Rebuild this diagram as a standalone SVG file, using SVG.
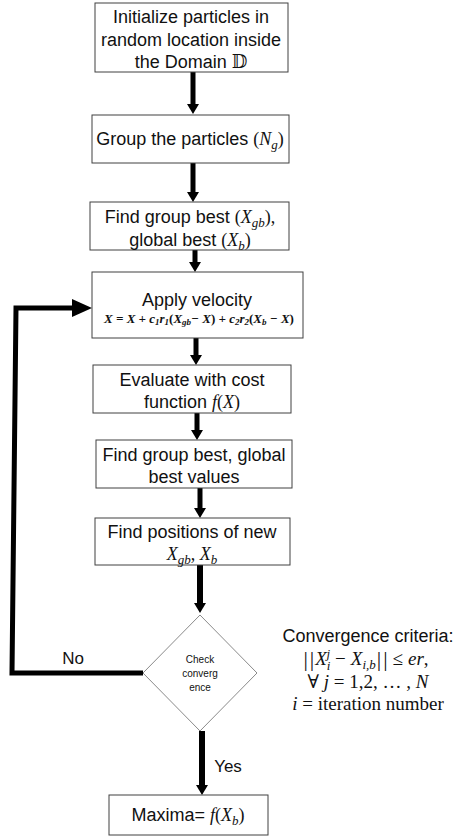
<svg xmlns="http://www.w3.org/2000/svg" width="455" height="837" viewBox="0 0 455 837">
<style>
.box{fill:#fff;stroke:#404040;stroke-width:1}
.t{font-family:"Liberation Sans","DejaVu Sans",sans-serif;font-size:18px;fill:#111;text-anchor:middle}
.m{font-family:"Liberation Serif","DejaVu Serif",serif;font-style:italic}
.r{font-family:"Liberation Serif","DejaVu Serif",serif;font-style:normal}
.sm{font-size:13px}
.dia{font-family:"Liberation Sans","DejaVu Sans",sans-serif;font-size:10px;fill:#111;text-anchor:middle}
.crit{font-family:"Liberation Serif","DejaVu Serif",serif;font-size:19px;fill:#111;text-anchor:middle}
.conn{stroke:#000;fill:none}
</style>
<defs>
<marker id="ah" viewBox="0 -6 10 12" refX="0" refY="0" markerWidth="10" markerHeight="12" markerUnits="userSpaceOnUse" orient="auto">
<path d="M0,-6 L10,0 L0,6 z" fill="#000"/>
</marker>
<marker id="ahL" viewBox="0 -9 20 18" refX="0" refY="0" markerWidth="20" markerHeight="18" markerUnits="userSpaceOnUse" orient="auto">
<path d="M0,-9 L20,0 L0,9 z" fill="#000"/>
</marker>
</defs>

<g id="connectors">
<line class="conn" x1="193" y1="72" x2="193" y2="104" stroke-width="5" marker-end="url(#ah)"/>
<line class="conn" x1="193" y1="163" x2="193" y2="192" stroke-width="5" marker-end="url(#ah)"/>
<line class="conn" x1="195" y1="250" x2="195" y2="262" stroke-width="5" marker-end="url(#ah)"/>
<line class="conn" x1="196" y1="338" x2="196" y2="355" stroke-width="5" marker-end="url(#ah)"/>
<line class="conn" x1="197" y1="413" x2="197" y2="430" stroke-width="5" marker-end="url(#ah)"/>
<line class="conn" x1="200" y1="488" x2="200" y2="508" stroke-width="5" marker-end="url(#ah)"/>
<line class="conn" x1="200" y1="565" x2="200" y2="603" stroke-width="6" marker-end="url(#ah)"/>
<line class="conn" x1="202" y1="731" x2="202" y2="785" stroke-width="6" marker-end="url(#ah)"/>
<polyline class="conn" points="143,673 12,673 16,308 72,308" stroke-width="5" marker-end="url(#ahL)"/>
<text class="t" x="73" y="664" style="font-size:17px">No</text>
<text class="t" x="228" y="772" style="font-size:17px">Yes</text>
</g>

<g id="n1">
<rect class="box" x="95" y="3" width="193" height="69"/>
<text class="t" x="191" y="23">Initialize particles in</text>
<text class="t" x="191" y="46">random location inside</text>
<text class="t" x="191" y="68">the Domain <tspan class="r">𝔻</tspan></text>
</g>

<g id="n2">
<rect class="box" x="92" y="115" width="197" height="48"/>
<text class="t" x="190" y="145">Group the particles <tspan class="r">(</tspan><tspan class="m">N</tspan><tspan class="m sm" dy="4">g</tspan><tspan class="r" dy="-4">)</tspan></text>
</g>

<g id="n3">
<rect class="box" x="90" y="202" width="199" height="48"/>
<text class="t" x="190" y="223">Find group best <tspan class="r">(</tspan><tspan class="m">X</tspan><tspan class="m sm" dy="4">gb</tspan><tspan class="r" dy="-4">),</tspan></text>
<text class="t" x="190" y="246">global best <tspan class="r">(</tspan><tspan class="m">X</tspan><tspan class="m sm" dy="4">b</tspan><tspan class="r" dy="-4">)</tspan></text>
</g>

<g id="n4">
<rect class="box" x="92" y="272" width="211" height="66"/>
<text class="t" x="197" y="306">Apply velocity</text>
<text class="t" x="199" y="323" style="font-family:'Liberation Serif',serif;font-size:13px;font-weight:bold;font-style:italic">X = X + c<tspan style="font-size:9px" dy="2">1</tspan><tspan dy="-2">r</tspan><tspan style="font-size:9px" dy="2">1</tspan><tspan dy="-2" style="font-style:normal">(</tspan>X<tspan style="font-size:9px" dy="2">gb</tspan><tspan dy="-2">− X</tspan><tspan style="font-style:normal">)</tspan> + c<tspan style="font-size:9px" dy="2">2</tspan><tspan dy="-2">r</tspan><tspan style="font-size:9px" dy="2">2</tspan><tspan dy="-2" style="font-style:normal">(</tspan>X<tspan style="font-size:9px" dy="2">b</tspan><tspan dy="-2"> − X</tspan><tspan style="font-style:normal">)</tspan></text>
</g>

<g id="n5">
<rect class="box" x="93" y="365" width="198" height="48"/>
<text class="t" x="192" y="386">Evaluate with cost</text>
<text class="t" x="192" y="408">function <tspan class="m">f</tspan><tspan class="r">(</tspan><tspan class="m">X</tspan><tspan class="r">)</tspan></text>
</g>

<g id="n6">
<rect class="box" x="96" y="440" width="196" height="48"/>
<text class="t" x="194" y="461">Find group best, global</text>
<text class="t" x="194" y="483">best values</text>
</g>

<g id="n7">
<rect class="box" x="95" y="518" width="195" height="47"/>
<text class="t" x="192" y="538">Find positions of new</text>
<text class="t" x="192" y="560"><tspan class="m">X</tspan><tspan class="m sm" dy="4">gb</tspan><tspan class="r" dy="-4">, </tspan><tspan class="m">X</tspan><tspan class="m sm" dy="4">b</tspan></text>
</g>

<g id="n8">
<polygon points="200,615 257,673 200,731 143,673" fill="#fff" stroke="#8a8a8a" stroke-width="1"/>
<text class="dia" x="200" y="663">Check</text>
<text class="dia" x="200" y="677">converg</text>
<text class="dia" x="200" y="691">ence</text>
</g>

<g id="n9">
<rect class="box" x="109" y="795" width="159" height="40"/>
<text class="t" x="188" y="821">Maxima= <tspan class="m">f</tspan><tspan class="r">(</tspan><tspan class="m">X</tspan><tspan class="m sm" dy="4">b</tspan><tspan class="r" dy="-4">)</tspan></text>
</g>

<g id="criteria">
<text class="t" x="368" y="642">Convergence criteria:</text>
<text class="crit" x="366" y="665"><tspan style="font-size:22px" dy="1">|</tspan><tspan style="font-size:22px" dx="2">|</tspan><tspan dy="-1" dx="1" style="font-style:italic">X</tspan><tspan style="font-size:13px;font-style:italic" dy="5">i</tspan><tspan style="font-size:13px;font-style:italic" dx="-4" dy="-12">j</tspan><tspan dy="7" dx="5">−</tspan><tspan dx="5" style="font-style:italic">X</tspan><tspan style="font-size:13px;font-style:italic" dy="4">i,b</tspan><tspan style="font-size:22px" dy="-3" dx="1">|</tspan><tspan style="font-size:22px" dx="2">|</tspan><tspan dy="-1" dx="5">≤</tspan><tspan dx="5" style="font-style:italic">er</tspan>,</text>
<text class="crit" x="368" y="688">∀ <tspan style="font-style:italic">j</tspan> = 1,2, … , <tspan style="font-style:italic">N</tspan></text>
<text class="crit" x="368" y="710"><tspan style="font-style:italic">i</tspan> = iteration number</text>
</g>
</svg>
